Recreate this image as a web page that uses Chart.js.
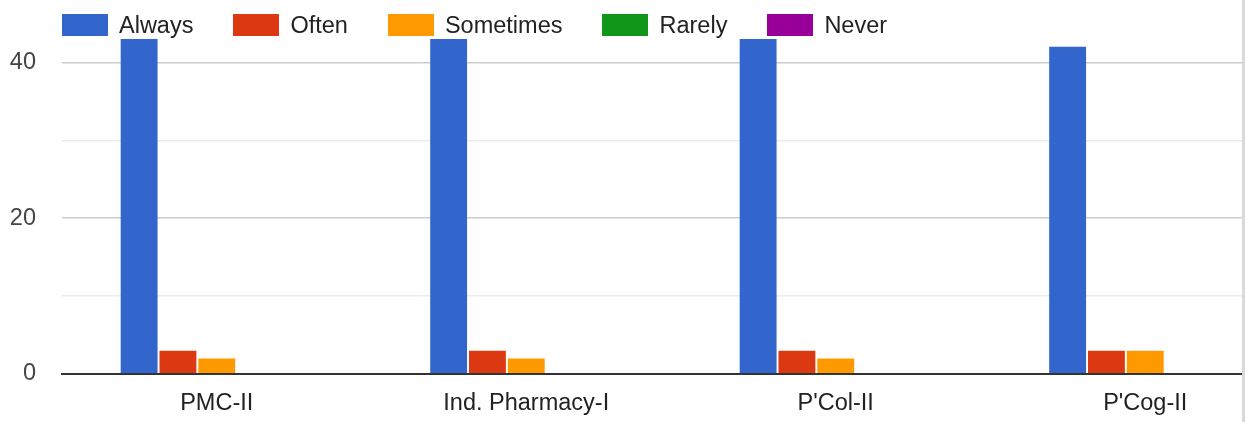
<!DOCTYPE html>
<html>
<head>
<meta charset="utf-8">
<script src="https://cdn.jsdelivr.net/npm/chart.js@4/dist/chart.umd.min.js"></script>
<style>
  html, body { margin: 0; padding: 0; background: #fff; overflow: hidden; }
  #clip { position: absolute; left: 0; top: 0; width: 1242px; height: 422px; overflow: hidden; }
  /* canvas is wider/taller than the view: the original picture is cropped on the right and top */
  #wrap { position: absolute; left: 0; top: -40px; width: 1300px; height: 462px; }
  #edge { position: absolute; left: 1242px; top: 0; width: 3px; height: 422px; background: #dadada; }
  #legend { position: absolute; left: 62px; top: 14px; display: flex; gap: 40px;
            font-family: Arial, "Liberation Sans", sans-serif; font-size: 23.5px; color: #222; }
  .item { display: flex; align-items: center; height: 22px; }
  .box { width: 46px; height: 22px; margin-right: 11px; }
  .txt { line-height: 22px; text-shadow: 0 0 2px #fff, 0 0 2px #fff; }
</style>
</head>
<body>
<div id="clip">
  <div id="wrap"><canvas id="chart"></canvas></div>
</div>
<div id="legend"></div>
<div id="edge"></div>
<script>
// ---- Data ----
const categories = ['PMC-II', 'Ind. Pharmacy-I', "P'Col-II", "P'Cog-II"];
const seriesNames = ['Always', 'Often', 'Sometimes', 'Rarely', 'Never'];
const seriesColors = ['#3366cc', '#dc3912', '#ff9900', '#109618', '#990099'];

const always = [43, 43, 43, 42];
const often = [3, 3, 3, 3];
const sometimes = [2, 2, 2, 3];
const rarely = [0, 0, 0, 0];
const never = [0, 0, 0, 0];

const yMax = 48;
const yStep = 10;
const yLabelEvery = 20;

const seriesValues = [always, often, sometimes, rarely, never];
const FONT = 'Arial, "Liberation Sans", sans-serif';

// ---- Legend (HTML overlay, sits on top of the plot like the original) ----
const legendEl = document.getElementById('legend');
legendEl.innerHTML = seriesNames.map((name, i) => `
  <div class="item"><div class="box" style="background:${seriesColors[i]}"></div><span class="txt">${name}</span></div>
`).join('');

// ---- Chart ----
const datasets = seriesNames.map((name, i) => ({
  label: name,
  data: seriesValues[i],
  backgroundColor: seriesColors[i],
  borderWidth: 0,
  categoryPercentage: 0.627,
  barPercentage: 0.95,
}));

new Chart(document.getElementById('chart'), {
  type: 'bar',
  data: { labels: categories, datasets },
  options: {
    responsive: true,
    maintainAspectRatio: false,
    animation: false,
    plugins: { legend: { display: false }, tooltip: { enabled: false } },
    scales: {
      x: {
        grid: { display: false },
        border: { display: true, color: '#333', width: 2 },
        ticks: { color: '#222', padding: 7, font: { family: FONT, size: 23.5 }, maxRotation: 0, autoSkip: false },
        afterFit: (s) => { s.height = 48; },
      },
      y: {
        min: 0,
        max: yMax,
        border: { display: false },
        grid: {
          drawTicks: false,
          color: (c) => {
            const v = c.tick.value;
            if (v === 0) return '#333';
            if (v % yStep !== 0) return 'rgba(0,0,0,0)';
            return v % yLabelEvery === 0 ? '#cccccc' : '#ebebeb';
          },
          lineWidth: (c) => (c.tick.value === 0 ? 2 : 1.5),
        },
        ticks: {
          stepSize: yStep,
          padding: 26,
          color: '#444',
          font: { family: FONT, size: 23.5 },
          callback: (v) => (v % yLabelEvery === 0 ? v : ''),
        },
        afterFit: (s) => { s.width = 62; },
      },
    },
  },
});
</script>
</body>
</html>
